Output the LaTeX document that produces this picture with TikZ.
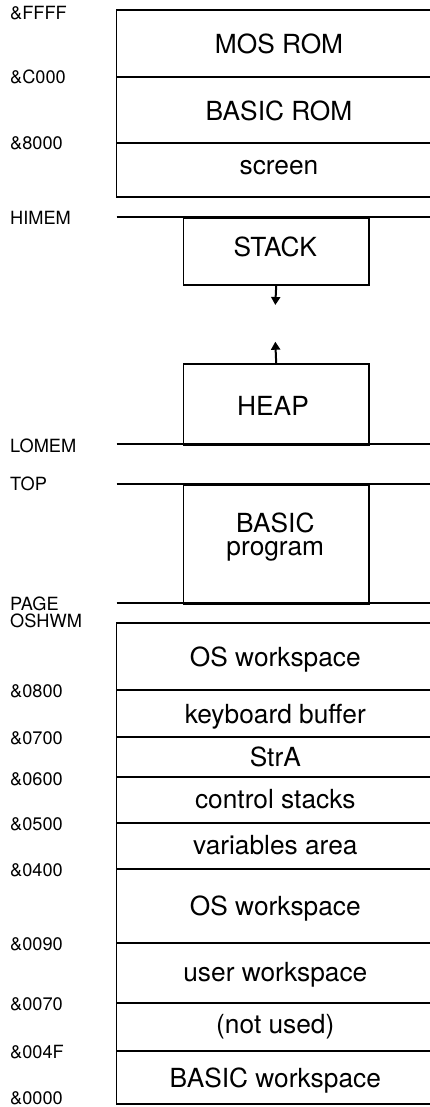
\documentclass[tikz,border=0pt]{standalone}
\usepackage{fontspec}
\setmainfont{TeX Gyre Heros}
\usetikzlibrary{arrows.meta}
\begin{document}
\begin{tikzpicture}[x=1pt,y=-1pt,
  wall/.style={line width=1.7pt},
  region/.style={anchor=base,font=\fontsize{26.3}{22}\selectfont,inner sep=0pt},
  addr/.style={anchor=base west,font=\fontsize{18.2}{16}\selectfont,inner sep=0pt},
  blockbox/.style={draw,line width=1.7pt,anchor=north west,inner sep=0pt,minimum width=185.3pt},
  growarrow/.style={line width=2pt,-{Triangle[width=9pt,length=8pt]}}]
\useasboundingbox (0,0) rectangle (429,1107);

% upper memory: ROMs and screen
\draw[wall] (432,10) -- (116.5,10) -- (116.5,196.7) -- (432,196.7);
\draw[wall] (116.5,76.7) -- (432,76.7);
\draw[wall] (116.5,142.7) -- (432,142.7);
\node[region] (mos) at (279,53.3) {MOS ROM};
\node[region] (brom) at (279,120.7) {BASIC ROM};
\node[region] (scr) at (279,175) {screen};

% boundary lines of the user area
\draw[wall] (116.5,217) -- (432,217);
\draw[wall] (116.5,444) -- (432,444);
\draw[wall] (116.5,484) -- (432,484);
\draw[wall] (116.5,603.3) -- (432,603.3);

% stack, heap and program
\node[blockbox,minimum height=67pt] (stack) at (182.7,217) {};
\node[region] (stacktxt) at (275.3,256) {STACK};
\node[blockbox,minimum height=80.7pt] (heap) at (182.7,363.3) {};
\node[region] (heaptxt) at (273,415) {HEAP};
\node[blockbox,minimum height=119.3pt] (prog) at (182.7,484) {};
\node[region] (progtxt1) at (275.3,532.5) {BASIC};
\node[region] (progtxt2) at (275.3,555.5) {program};
\coordinate (stackend) at (275.3,305);
\coordinate (heapend) at (275.3,341.7);
\draw[growarrow] (stack.south) -- (stackend);
\draw[growarrow] (heap.north) -- (heapend);

% lower memory: workspaces and buffers
\draw[wall] (432,623.3) -- (116.5,623.3) -- (116.5,1104) -- (432,1104);
\foreach \yy in {690,737,777.3,823,869.3,942.7,1002.7,1050.7}
  \draw[wall] (116.5,\yy) -- (432,\yy);
\node[region] (osw1) at (275.3,666.7) {OS workspace};
\node[region] (kbd) at (275.3,723.3) {keyboard buffer};
\node[region] (stra) at (275.3,766.7) {StrA};
\node[region] (ctrl) at (275.3,808.3) {control stacks};
\node[region] (vars) at (275.3,854) {variables area};
\node[region] (osw2) at (275.3,915.7) {OS workspace};
\node[region] (user) at (275.3,981.7) {user workspace};
\node[region] (unused) at (275.3,1033.3) {(not used)};
\node[region] (bws) at (275.3,1087.3) {BASIC workspace};

% address labels
\node[addr] (aFFFF) at (10,20) {\&FFFF};
\node[addr] (aC000) at (10,83.3) {\&C000};
\node[addr] (a8000) at (10,150) {\&8000};
\node[addr] (himem) at (10,224.3) {HIMEM};
\node[addr] (lomem) at (10,452.7) {LOMEM};
\node[addr] (top) at (10,490.7) {TOP};
\node[addr] (page) at (10,610) {PAGE};
\node[addr] (oshwm) at (10,627.7) {OSHWM};
\node[addr] (a0800) at (10,697.7) {\&0800};
\node[addr] (a0700) at (10,744.3) {\&0700};
\node[addr] (a0600) at (10,785) {\&0600};
\node[addr] (a0500) at (10,830) {\&0500};
\node[addr] (a0400) at (10,876.7) {\&0400};
\node[addr] (a0090) at (10,950) {\&0090};
\node[addr] (a0070) at (10,1010) {\&0070};
\node[addr] (a004F) at (10,1058.3) {\&004F};
\node[addr] (a0000) at (10,1104) {\&0000};
\end{tikzpicture}
\end{document}
